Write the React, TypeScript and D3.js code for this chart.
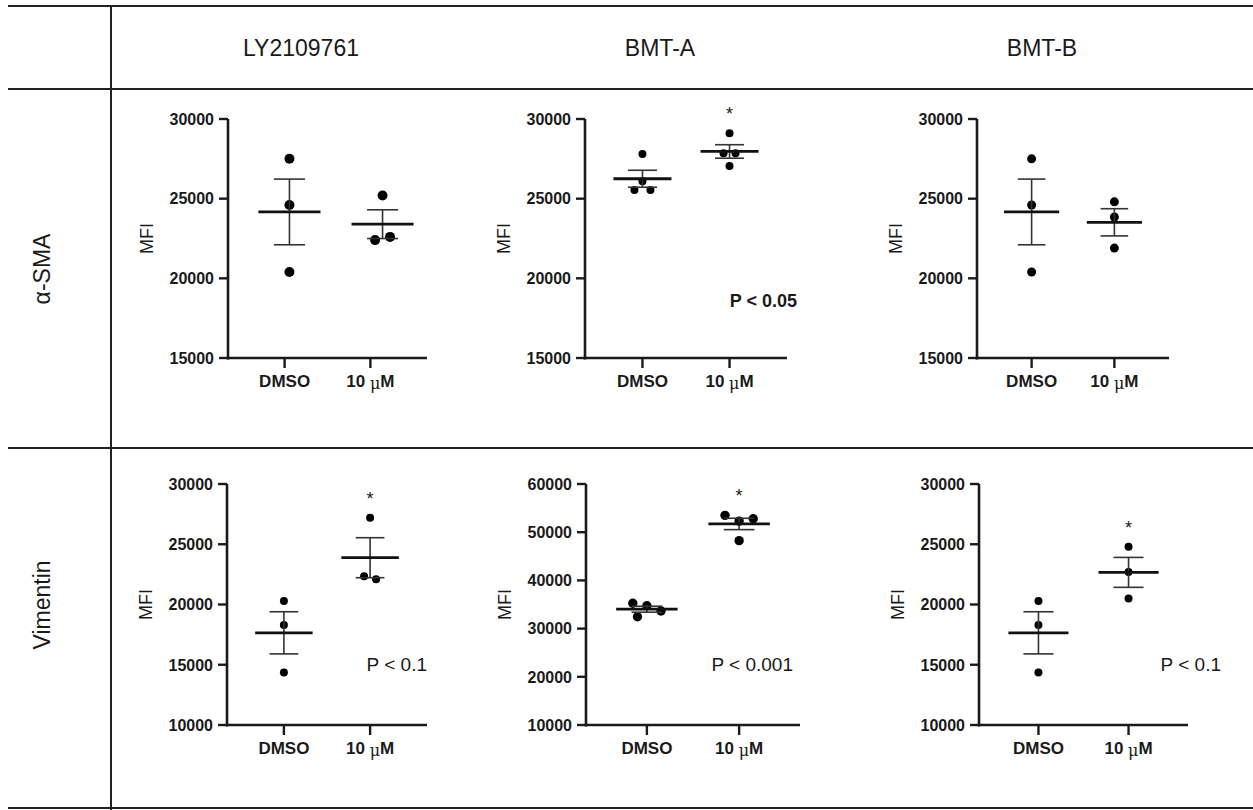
import React from "react";
import * as d3 from "d3";

// table headers
const columns = ["LY2109761", "BMT-A", "BMT-B"];
const rows = ["α-SMA", "Vimentin"];
const groups = ["DMSO", "10 μM"];

// MFI values
const smaLyDmso = [27500, 24600, 20400];
const smaLy10 = [25200, 22600, 22400];
const smaBmtaDmso = [27800, 26100, 25550, 25550];
const smaBmta10 = [29100, 27850, 27850, 27050];
const smaBmtbDmso = [27500, 24600, 20400];
const smaBmtb10 = [24800, 23850, 21900];
const vimLyDmso = [20300, 18300, 14350];
const vimLy10 = [27200, 22100, 22350];
const vimBmtaDmso = [34750, 35250, 33650, 32450];
const vimBmta10 = [52300, 53500, 52800, 48250];
const vimBmtbDmso = [20300, 18300, 14350];
const vimBmtb10 = [24800, 22700, 20500];

const smaTicks = [15000, 20000, 25000, 30000];
const vimTicks = [10000, 15000, 20000, 25000, 30000];
const vimBmtaTicks = [10000, 20000, 30000, 40000, 50000, 60000];

const pValues = ["", "P < 0.05", "", "P < 0.1", "P < 0.001", "P < 0.1"];
const starred = [false, true, false, true, true, true];

const SANS = "'Liberation Sans', Arial, Helvetica, sans-serif";
const INK = "#1a1a1a";

// layout of each small graph; dotW lets the scatter sit off the tick centres (as in the first one)
const panels = [
  { data: [smaLyDmso, smaLy10], ticks: smaTicks, x0: 228, w: 199, dotW: 216, top: 119, bottom: 358, r: 5, pX: 0, pBold: false },
  { data: [smaBmtaDmso, smaBmta10], ticks: smaTicks, x0: 585, w: 202, dotW: 202, top: 119, bottom: 358, r: 4, pX: 797, pBold: true },
  { data: [smaBmtbDmso, smaBmtb10], ticks: smaTicks, x0: 977, w: 192, dotW: 192, top: 119, bottom: 358, r: 4.5, pX: 0, pBold: false },
  { data: [vimLyDmso, vimLy10], ticks: vimTicks, x0: 227, w: 200, dotW: 200, top: 484, bottom: 725, r: 4, pX: 427, pBold: false },
  { data: [vimBmtaDmso, vimBmta10], ticks: vimBmtaTicks, x0: 586, w: 214, dotW: 214, top: 484, bottom: 725, r: 4.7, pX: 793, pBold: false },
  { data: [vimBmtbDmso, vimBmtb10], ticks: vimTicks, x0: 979, w: 209, dotW: 209, top: 484, bottom: 725, r: 4, pX: 1221, pBold: false },
];

// Prism-like scatter: dodge overlapping dots sideways, then centre each clump
function swarm(values: number[], y: (v: number) => number, r: number) {
  const d = 2 * r + 3;
  const out: { x: number; y: number }[] = [];
  values.forEach((v) => {
    const py = y(v);
    let off = 0;
    for (let k = 0; k < 60; k++) {
      const c = k === 0 ? 0 : (k % 2 ? -1 : 1) * Math.ceil(k / 2) * r;
      if (out.every((p) => Math.hypot(p.x - c, p.y - py) >= d)) {
        off = c;
        break;
      }
    }
    out.push({ x: off, y: py });
  });
  const order = d3.range(out.length).sort((a, b) => out[a].y - out[b].y);
  let clump = [order[0]];
  const flush = () => {
    const xs = clump.map((i) => out[i].x);
    const shift = -((d3.min(xs) as number) + (d3.max(xs) as number)) / 2;
    clump.forEach((i) => (out[i].x += shift));
  };
  for (let k = 1; k < order.length; k++) {
    if (out[order[k]].y - out[order[k - 1]].y < d) clump.push(order[k]);
    else {
      flush();
      clump = [order[k]];
    }
  }
  flush();
  return out;
}

const Panel = ({ p, i }: { p: any; i: number }) => {
  const ticks: number[] = p.ticks;
  const y = d3.scaleLinear().domain([ticks[0], ticks[ticks.length - 1]]).range([p.bottom, p.top]);
  const x = d3.scalePoint<string>().domain(groups).range([p.x0, p.x0 + p.w]).padding(0.66);
  const xd = d3.scalePoint<string>().domain(groups).range([p.x0, p.x0 + p.dotW]).padding(0.66);
  const step = xd.step();
  const mid = (p.top + p.bottom) / 2;
  const treatedMax = d3.max(p.data[1] as number[]) as number;

  return (
    <g>
      {/* axes */}
      <line x1={p.x0} x2={p.x0} y1={p.top} y2={p.bottom + 1.5} stroke={INK} strokeWidth={2.6} />
      <line x1={p.x0 - 1.3} x2={p.x0 + p.w} y1={p.bottom} y2={p.bottom} stroke={INK} strokeWidth={2.6} />
      {ticks.map((t) => (
        <g key={t}>
          <line x1={p.x0 - 9} x2={p.x0} y1={y(t)} y2={y(t)} stroke={INK} strokeWidth={2.4} />
          <text x={p.x0 - 14} y={y(t)} dy="0.36em" textAnchor="end" fontSize={16} fontWeight="bold" fill={INK}>
            {t}
          </text>
        </g>
      ))}
      {groups.map((g) => (
        <g key={g}>
          <line x1={x(g)} x2={x(g)} y1={p.bottom} y2={p.bottom + 10} stroke={INK} strokeWidth={2.4} />
          <text x={x(g)} y={p.bottom + 29} textAnchor="middle" fontSize={17} fontWeight="bold" fill={INK}>
            {g.startsWith("10") ? (
              <>
                {"10 "}
                <tspan fontFamily="'DejaVu Serif', serif" fontWeight="normal" fontSize={16} dy={2}>
                  μ
                </tspan>
                <tspan dy={-2}>M</tspan>
              </>
            ) : (
              g
            )}
          </text>
        </g>
      ))}
      <text
        transform={`translate(${p.x0 - 75},${mid}) rotate(-90)`}
        textAnchor="middle"
        fontSize={18}
        fill={INK}
      >
        MFI
      </text>

      {/* scatter, mean and SEM */}
      {groups.map((g, gi) => {
        const vals: number[] = p.data[gi];
        const cx = xd(g) as number;
        const m = d3.mean(vals) as number;
        const sem = (d3.deviation(vals) as number) / Math.sqrt(vals.length);
        const pts = swarm(vals, y, p.r);
        return (
          <g key={g}>
            {pts.map((pt, k) => (
              <circle key={k} cx={cx + pt.x} cy={pt.y} r={p.r} fill="#000" />
            ))}
            <line x1={cx} x2={cx} y1={y(m + sem)} y2={y(m - sem)} stroke="#333" strokeWidth={1.6} />
            <line x1={cx - step / 6} x2={cx + step / 6} y1={y(m + sem)} y2={y(m + sem)} stroke="#333" strokeWidth={1.6} />
            <line x1={cx - step / 6} x2={cx + step / 6} y1={y(m - sem)} y2={y(m - sem)} stroke="#333" strokeWidth={1.6} />
            <line x1={cx - step / 3} x2={cx + step / 3} y1={y(m)} y2={y(m)} stroke="#111" strokeWidth={2.8} />
          </g>
        );
      })}

      {starred[i] && (
        <text x={xd(groups[1])} y={y(treatedMax) - 23 + 10} textAnchor="middle" fontSize={18} fill={INK}>
          *
        </text>
      )}
      {pValues[i] && (
        <text
          x={p.pX}
          y={p.top > 200 ? 671 : 307}
          textAnchor="end"
          fontSize={p.pBold ? 18 : 19}
          fontWeight={p.pBold ? "bold" : "normal"}
          fill={INK}
        >
          {pValues[i]}
        </text>
      )}
    </g>
  );
};

const headerX = [301, 660, 1042];
const rowY = [269, 605];

export default function App() {
  return (
    <svg
      width={1253}
      height={810}
      style={{ position: "absolute", left: 0, top: 0, background: "#fff" }}
      fontFamily={SANS}
    >
      {/* table grid */}
      <g stroke="#222" strokeWidth={2}>
        <line x1={8} x2={1253} y1={6} y2={6} />
        <line x1={8} x2={1253} y1={89} y2={89} />
        <line x1={8} x2={1253} y1={448} y2={448} />
        <line x1={8} x2={1253} y1={808} y2={808} />
        <line x1={111} x2={111} y1={6} y2={810} />
      </g>
      {columns.map((c, k) => (
        <text key={c} x={headerX[k]} y={56} textAnchor="middle" fontSize={23} fill={INK}>
          {c}
        </text>
      ))}
      {rows.map((r, k) => (
        <text key={r} transform={`translate(50,${rowY[k]}) rotate(-90)`} textAnchor="middle" fontSize={23} fill={INK}>
          {r}
        </text>
      ))}
      {panels.map((p, i) => (
        <Panel key={i} p={p} i={i} />
      ))}
    </svg>
  );
}
